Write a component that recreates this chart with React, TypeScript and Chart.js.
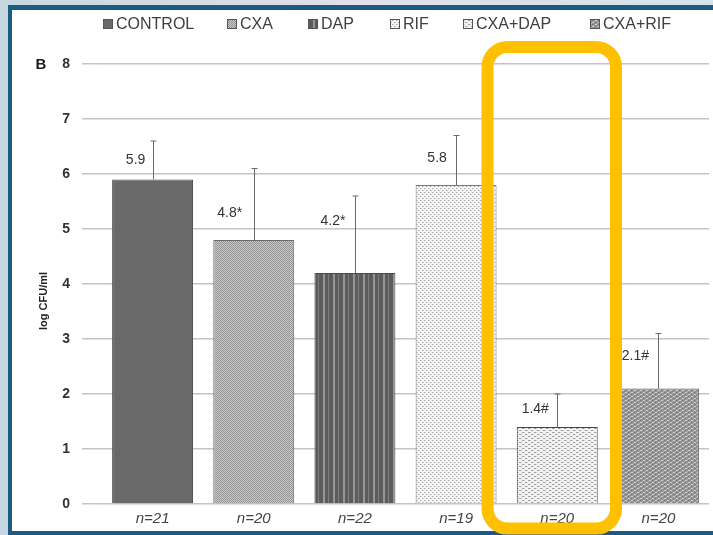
import { useEffect, useRef } from "react";
import { Chart, registerables } from "chart.js";

Chart.register(...registerables);

// Treatment groups, sample sizes and bacterial counts (log CFU/ml)
const groups = ["CONTROL", "CXA", "DAP", "RIF", "CXA+DAP", "CXA+RIF"];
const sampleSizes = ["n=21", "n=20", "n=22", "n=19", "n=20", "n=20"];
const meanLogCfu = [5.9, 4.8, 4.2, 5.8, 1.4, 2.1];
const upperError = [6.6, 6.1, 5.6, 6.7, 2.0, 3.1];
const significance = ["", "*", "*", "", "#", "#"];
const yMin = 0;
const yMax = 8;
const yStep = 1;

const FONT = "Arial, 'Liberation Sans', Helvetica, sans-serif";

type Painter = (c: CanvasRenderingContext2D, w: number, h: number) => void;

function tile(w: number, h: number, paint: Painter): HTMLCanvasElement {
  const cv = document.createElement("canvas");
  cv.width = w;
  cv.height = h;
  const c = cv.getContext("2d")!;
  paint(c, w, h);
  return cv;
}

function px(c: CanvasRenderingContext2D, color: string, cells: number[][]) {
  c.fillStyle = color;
  for (const [x, y, w = 1, h = 1] of cells) c.fillRect(x, y, w, h);
}

// Hatch fills for each treatment group
function makeFills(ctx: CanvasRenderingContext2D): (CanvasPattern | string)[] {
  const tiles: HTMLCanvasElement[] = [
    // CONTROL: dark solid grey
    tile(2, 2, (c) => {
      c.fillStyle = "#686868";
      c.fillRect(0, 0, 2, 2);
      px(c, "#6e6e6e", [[0, 0]]);
    }),
    // CXA: fine light dots
    tile(2, 2, (c) => {
      c.fillStyle = "#c8c8c8";
      c.fillRect(0, 0, 2, 2);
      px(c, "#959595", [[0, 0], [1, 1]]);
    }),
    // DAP: vertical stripes
    tile(10, 2, (c) => {
      c.fillStyle = "#5c5c5c";
      c.fillRect(0, 0, 10, 2);
      px(c, "#969696", [[3, 0, 2, 2]]);
      px(c, "#7e7e7e", [[8, 0, 1, 2]]);
    }),
    // RIF: sparse dots on white
    tile(4, 4, (c) => {
      c.fillStyle = "#f5f5f5";
      c.fillRect(0, 0, 4, 4);
      px(c, "#a8a8a8", [[0, 0], [2, 2]]);
      px(c, "#d2d2d2", [[1, 0], [3, 2]]);
    }),
    // CXA+DAP: staggered short dashes
    tile(6, 4, (c) => {
      c.fillStyle = "#f3f3f3";
      c.fillRect(0, 0, 6, 4);
      px(c, "#9c9c9c", [[0, 0, 2, 1], [3, 2, 2, 1]]);
      px(c, "#cfcfcf", [[2, 0], [5, 2]]);
    }),
    // CXA+RIF: dense medium-grey weave
    tile(6, 4, (c) => {
      c.fillStyle = "#939393";
      c.fillRect(0, 0, 6, 4);
      px(c, "#cfcfcf", [[1, 0, 2, 1], [4, 2, 2, 1]]);
      px(c, "#b4b4b4", [[0, 1], [3, 3]]);
      px(c, "#767676", [[4, 0], [1, 2]]);
    }),
  ];
  return tiles.map((t) => ctx.createPattern(t, "repeat") || "#999");
}

const barBorders = ["#4a4a4a", "#6a6a6a", "#4a4a4a", "#7a7a7a", "#444444", "#5a5a5a"];

export default function App() {
  const ref = useRef<HTMLCanvasElement>(null);

  useEffect(() => {
    const canvas = ref.current!;
    const ctx = canvas.getContext("2d")!;
    const fills = makeFills(ctx);

    // Page frame behind the chart
    const framePlugin = {
      id: "frame",
      beforeDraw(chart: Chart) {
        const { ctx: c, width, height } = chart;
        c.save();
        const g = c.createLinearGradient(0, 0, width, 0);
        g.addColorStop(0, "#c6d7e1");
        g.addColorStop(0.5, "#e2e0e8");
        g.addColorStop(1, "#d3e3ec");
        c.fillStyle = g;
        c.fillRect(0, 0, width, height);
        c.fillStyle = "#1c5c82";
        c.fillRect(8, 5, width - 8, height - 5);
        c.fillStyle = "#ffffff";
        c.fillRect(12, 10, width - 12, 521);
        c.restore();
      },
    };

    // Upper error whiskers and value labels
    const labelDx = [-17, -24, -22, -19, -22, -23];
    const labelDy = [-19, -27, -52, -27, -18, -32];
    const annotatePlugin = {
      id: "annotate",
      afterDatasetsDraw(chart: Chart) {
        const c = chart.ctx;
        const yScale = chart.scales.y;
        const bars = chart.getDatasetMeta(0).data;
        c.save();
        c.strokeStyle = "#6a6a6a";
        c.lineWidth = 1;
        bars.forEach((bar: any, i: number) => {
          const x = Math.round(bar.x) + 0.5;
          const yTop = bar.y;
          const yErr = yScale.getPixelForValue(upperError[i]);
          c.beginPath();
          c.moveTo(x, yTop);
          c.lineTo(x, yErr);
          c.moveTo(x - 3, yErr);
          c.lineTo(x + 3, yErr);
          c.stroke();
        });
        c.fillStyle = "#333";
        c.font = `14px ${FONT}`;
        c.textAlign = "center";
        c.textBaseline = "middle";
        bars.forEach((bar: any, i: number) => {
          const text = meanLogCfu[i].toFixed(1) + significance[i];
          c.fillText(text, bar.x + labelDx[i], bar.y + labelDy[i]);
        });
        c.restore();
      },
    };

    // Legend row, panel letter, axis title and highlight box
    const legendX = [103, 227, 308, 390, 463, 590];
    const overlayPlugin = {
      id: "overlay",
      afterDraw(chart: Chart) {
        const c = chart.ctx;
        const area = chart.chartArea;
        c.save();
        c.font = `16px ${FONT}`;
        c.textBaseline = "middle";
        c.textAlign = "left";
        groups.forEach((g, i) => {
          const x = legendX[i];
          c.fillStyle = fills[i] as any;
          c.fillRect(x, 19, 10, 10);
          c.strokeStyle = "#555";
          c.lineWidth = 1;
          c.strokeRect(x + 0.5, 19.5, 9, 9);
          c.fillStyle = "#404040";
          c.fillText(g, x + 13, 24.5);
        });

        c.fillStyle = "#1a1a1a";
        c.font = `bold 15px ${FONT}`;
        c.textAlign = "center";
        c.fillText("B", 41, area.top + 1);

        c.save();
        c.translate(44, 301);
        c.rotate(-Math.PI / 2);
        c.font = `bold 11px ${FONT}`;
        c.fillStyle = "#222";
        c.fillText("log CFU/ml", 0, 0);
        c.restore();

        c.strokeStyle = "#FFC000";
        c.lineWidth = 12;
        c.beginPath();
        c.roundRect(487.5, 47, 128.5, 481.5, 20);
        c.stroke();
        c.restore();
      },
    };

    const chart = new Chart(ctx, {
      type: "bar",
      data: {
        labels: sampleSizes,
        datasets: [
          {
            label: "log CFU/ml",
            data: meanLogCfu,
            backgroundColor: fills as any,
            borderColor: barBorders,
            borderWidth: 1,
            categoryPercentage: 0.8,
            barPercentage: 1,
          },
        ],
      },
      options: {
        responsive: false,
        animation: false,
        events: [],
        layout: { padding: { left: 0, right: 4, top: 64, bottom: 0 } },
        plugins: {
          legend: { display: false },
          tooltip: { enabled: false },
        },
        scales: {
          x: {
            grid: { display: false, drawTicks: false },
            border: { display: false },
            ticks: {
              color: "#444",
              padding: 6,
              font: { family: FONT, size: 15, style: "italic" },
            },
            afterFit(scale: any) {
              scale.height = 31;
            },
          },
          y: {
            min: yMin,
            max: yMax,
            border: { display: false },
            grid: { color: "#c4c4c4", lineWidth: 1.5, tickLength: 20, drawTicks: true },
            ticks: {
              stepSize: yStep,
              color: "#333",
              padding: 12,
              font: { family: FONT, size: 14, weight: "bold" },
            },
            afterFit(scale: any) {
              scale.width = 102;
            },
          },
        },
      },
      plugins: [framePlugin, annotatePlugin, overlayPlugin],
    });

    return () => chart.destroy();
  }, []);

  return (
    <div style={{ position: "fixed", left: 0, top: 0, width: 713, height: 535 }}>
      <canvas ref={ref} width={713} height={535} style={{ display: "block", width: 713, height: 535 }} />
    </div>
  );
}
